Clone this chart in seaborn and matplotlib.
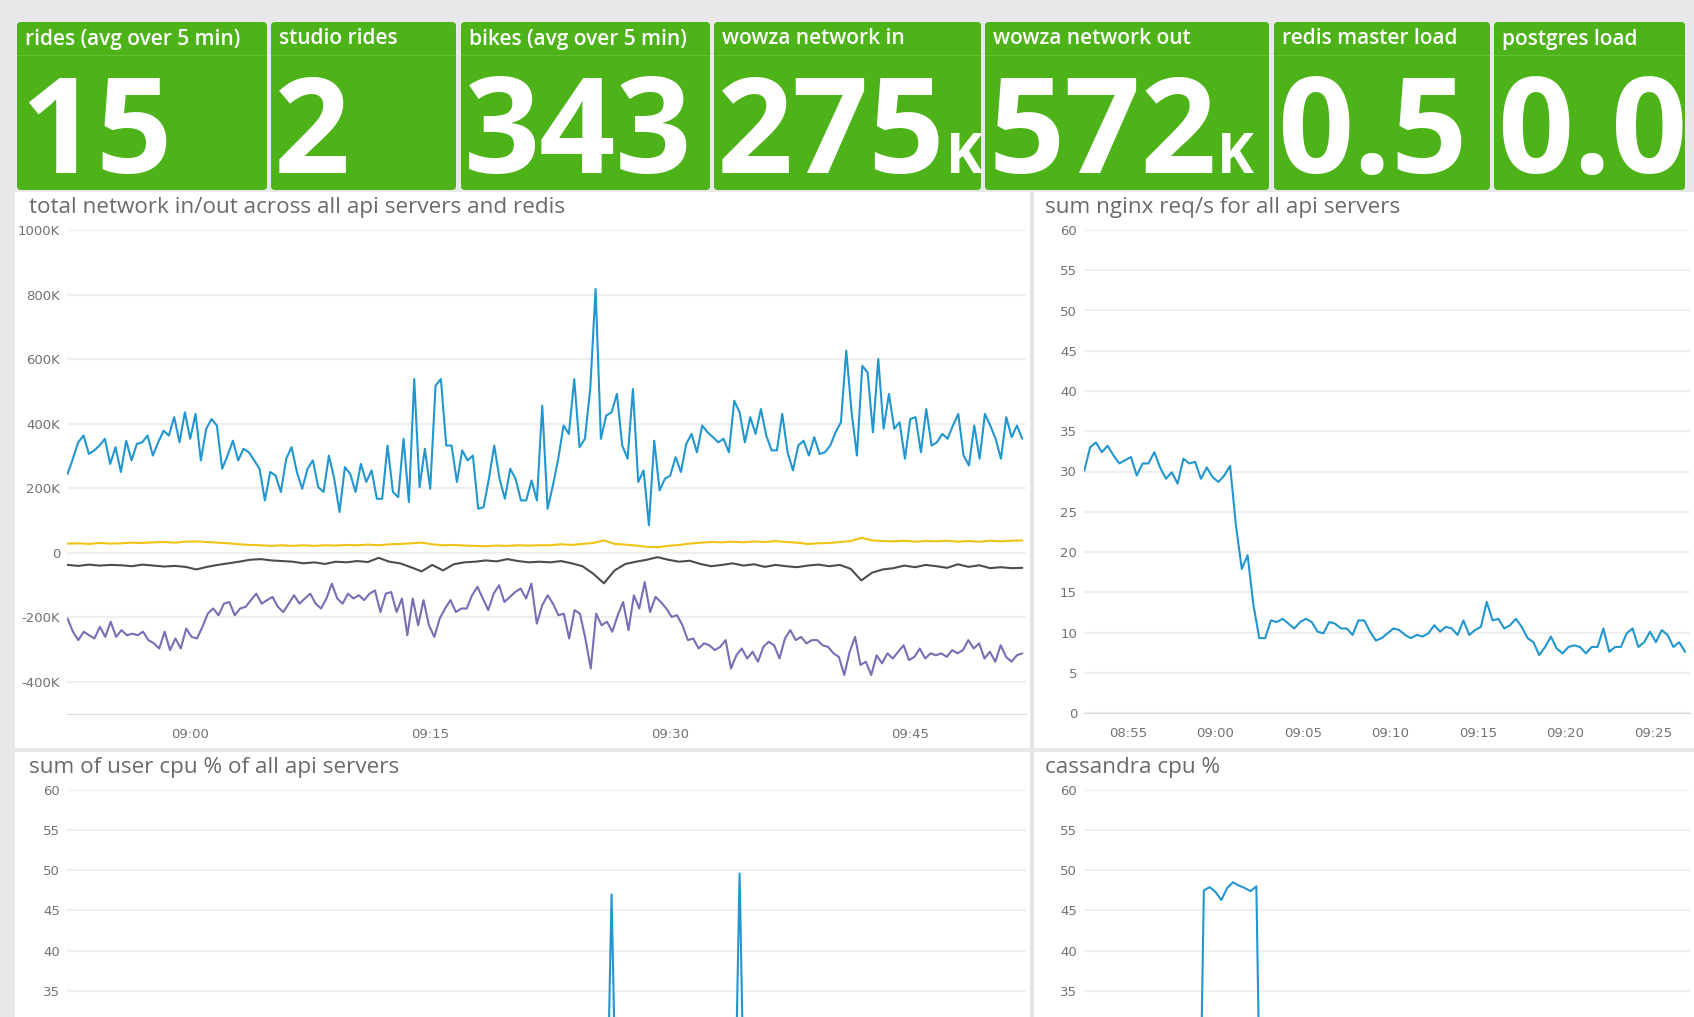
import numpy as np
import pandas as pd
import matplotlib
matplotlib.use('Agg')
import matplotlib.pyplot as plt
import matplotlib.dates as mdates
from matplotlib.patches import FancyBboxPatch, Rectangle
from matplotlib.ticker import AutoMinorLocator
import seaborn as sns

# ---------------- data ----------------
tile_titles = ['rides (avg over 5 min)', 'studio rides', 'bikes (avg over 5 min)',
               'wowza network in', 'wowza network out', 'redis master load', 'postgres load']
tile_values = ['15', '2', '343', '275', '572', '0.5', '0.0']
tile_suffix = ['', '', '', 'K', 'K', '', '']

# total network in/out (K) - api servers in (blue), out (purple), redis in (yellow), out (gray)
api_in = [244, 291, 342, 363, 306, 317, 332, 353, 275, 327, 250, 347, 286, 337, 342, 363, 301, 342,
          378, 363, 420, 342, 435, 353, 430, 286, 384, 414, 394, 260, 301, 347, 286, 322, 311, 286,
          260, 162, 250, 239, 188, 291, 327, 250, 198, 260,
          286, 203, 188, 301, 229, 126, 265, 244, 188, 275, 219, 255, 167, 167, 332, 188, 172, 353,
          157, 538, 203, 322, 198, 518, 538, 332, 332, 219, 317, 286, 301, 136, 141, 229, 332, 229,
          167, 260, 229, 162, 162, 224, 162, 456, 136,
          208, 291, 394, 368, 538, 327, 353, 507, 817, 353, 425, 435, 492, 332, 291, 507, 219, 255,
          85, 347, 193, 229, 239, 296, 250, 337, 368, 311, 394, 373, 358, 342, 353, 311, 471, 435,
          342, 420, 368, 445, 363, 317, 317, 430, 311,
          255, 332, 347, 301, 358, 306, 311, 332, 373, 404, 626, 435, 301, 579, 559, 373, 600, 384,
          492, 384, 404, 291, 414, 420, 311, 445, 332, 342, 368, 353, 394, 430, 301, 270, 394, 291,
          430, 394, 353, 291, 420, 358, 394, 353]
api_out = [-204, -245, -271, -245, -256, -266, -230, -261, -214, -261, -240, -256, -251, -256, -245,
           -271, -281, -297, -245, -302, -266, -297, -235, -261, -266, -230, -189, -173, -194, -158,
           -153, -194, -173, -168, -147, -127, -158, -147, -137, -168, -184, -158, -132, -158,
           -142, -127, -158, -173, -142, -96, -142, -158, -127, -142, -132, -147, -127, -117, -184,
           -127, -122, -184, -142, -256, -142, -225, -147, -225, -261, -204, -173, -147, -184, -173,
           -173, -132, -106, -142, -178, -127, -101, -153, -137, -122, -111, -142, -96, -220, -163,
           -132, -158, -194, -189, -266, -178, -189, -266, -359, -189, -225, -214, -245, -194, -153,
           -240, -132, -173, -91, -184, -137, -153, -173, -199, -194, -225, -271, -266, -297, -281,
           -287, -302, -292, -271, -359, -318, -297, -328, -307, -338, -292, -276, -287, -328, -266,
           -240, -271, -261, -281, -271, -271, -287, -292, -312, -323, -379, -307, -261, -348, -338,
           -379, -318, -343, -312, -328, -307, -287, -333, -323, -297, -328, -312, -318, -312, -323,
           -302, -312, -302, -271, -297, -281, -328, -307, -338, -287, -323, -338, -318, -312]
redis_in = [28, 29, 27, 30, 28, 29, 31, 30, 32, 33, 31, 34, 35, 33, 31, 29, 26, 24, 23, 21, 23, 21,
            23, 21, 23, 22, 24, 23, 25, 23, 26, 27, 29, 31, 26, 23, 24, 22, 21, 20, 22, 21, 23, 22, 23,
            23, 26, 24, 27, 30, 38, 27, 25, 22, 18, 17, 21, 24, 28, 31, 33, 32, 34, 32, 35, 33, 36, 33,
            31, 27, 29, 30, 33, 36, 46, 38, 36, 35, 37, 34, 36, 35, 37, 34, 36, 34, 37, 35, 37, 38]
redis_out = [-38, -41, -37, -40, -38, -39, -42, -37, -40, -43, -41, -44, -52, -44, -38, -33, -28, -22,
             -20, -24, -26, -28,
             -33, -30, -35, -28, -30, -26, -29, -16, -28, -33, -45, -58, -38, -55, -36, -30, -28, -24,
             -27, -20, -26, -30, -28,
             -30, -26, -33, -42, -65, -95, -55, -35, -28, -22, -14, -22, -28, -25, -35, -42, -38, -33,
             -40, -36, -44, -38, -42,
             -45, -40, -37, -42, -38, -50, -86, -62, -52, -48, -40, -45, -38, -42, -47, -36, -44, -39,
             -48, -45, -48, -47]
net_start, net_end = '2016-01-01 08:52:20', '2016-01-01 09:52:00'
net_ticks = [-400, -200, 0, 200, 400, 600, 800, 1000]
net_labels = ['-400K', '-200K', '0', '200K', '400K', '600K', '800K', '1000K']

# sum nginx req/s
nginx = [30.1, 33.0, 33.6, 32.4, 33.2, 32.0, 31.0, 31.4, 31.8, 29.5, 31.0, 31.0, 32.4, 30.5, 29.1,
         29.9, 28.5, 31.6, 31.0, 31.2, 29.1, 30.5, 29.3, 28.7, 29.5, 30.7, 23.3, 17.9, 19.6, 13.4,
         9.3, 9.3, 11.5, 11.3, 11.7, 11.1, 10.5, 11.3, 11.7, 11.3, 10.1, 9.9, 11.3, 11.1, 10.5,
         10.5, 9.7, 11.5, 11.5, 10.1, 9.0, 9.3, 9.9, 10.5, 10.3, 9.7, 9.3, 9.7, 9.5, 9.9, 10.9,
         10.1, 10.7, 10.5, 9.7, 11.5, 9.7, 10.3, 10.7, 13.8, 11.5, 11.7, 10.5, 10.9, 11.7, 10.7,
         9.3, 8.8, 7.2, 8.2, 9.5, 8.0, 7.4, 8.2, 8.4, 8.2, 7.4, 8.2, 8.2, 10.5, 7.6, 8.2, 8.2,
         9.9, 10.5, 8.2, 8.8, 10.1, 8.8, 10.3, 9.7, 8.2, 8.8, 7.6]
nginx_start, nginx_end = '2016-01-01 08:52:30', '2016-01-01 09:26:50'

# user cpu % (only the visible spikes matter, rest is below the cut)
cpu_times = ['08:52:20', '09:26:00', '09:26:20', '09:26:40', '09:34:00', '09:34:20', '09:34:40', '09:52:00']
cpu_vals = [14, 14, 47.0, 14, 14, 49.6, 14, 14]

# cassandra cpu %
cass_times = ['08:52:30', '08:59:00', '08:59:20', '08:59:40', '09:00:00', '09:00:20', '09:00:40',
              '09:01:00', '09:01:20', '09:01:40', '09:02:00', '09:02:20', '09:02:40', '09:26:50']
cass_vals = [3, 3, 47.5, 47.9, 47.3, 46.3, 47.8, 48.5, 48.1, 47.8, 47.4, 48.0, 3, 3]
cpu_ticks = [35, 40, 45, 50, 55, 60]

BLUE, PURPLE, YELLOW, GRAY = '#2196cf', '#7b6cb3', '#f0c214', '#4d4d4d'
GREEN = '#4db319'

# ---------------- figure ----------------
sns.set_style('white')
plt.rcParams['font.family'] = ['Open Sans', 'DejaVu Sans']

W, H = 1694, 1017
fig = plt.figure(figsize=(W / 100, H / 100), dpi=100)
fig.patch.set_facecolor('#e8e8e8')


def axes_px(left, top, right, bottom):
    return fig.add_axes([left / W, 1 - bottom / H, (right - left) / W, (bottom - top) / H])


def rect_px(x0, y0, x1, y1, color):
    fig.add_artist(Rectangle((x0 / W, 1 - y1 / H), (x1 - x0) / W, (y1 - y0) / H,
                             transform=fig.transFigure, color=color, lw=0, zorder=-2))


# panel backgrounds and dividers
rect_px(15, 192, W, H, 'white')
rect_px(1030, 192, 1034, H, '#e4e4e4')
rect_px(15, 748, W, 752, '#e8e8e8')

# ---------------- tiles ----------------
tiles_x = [(17, 267), (271, 456), (461, 710), (714, 981), (985, 1269), (1274, 1490), (1494, 1685)]
renderer = fig.canvas.get_renderer()
for (x0, x1), title, val, suf in zip(tiles_x, tile_titles, tile_values, tile_suffix):
    box = FancyBboxPatch((x0 / 100, (H - 190) / 100), (x1 - x0) / 100, (190 - 22) / 100,
                         boxstyle='round,pad=0,rounding_size=0.04',
                         transform=fig.dpi_scale_trans, facecolor=GREEN, edgecolor='none', zorder=-1)
    fig.add_artist(box)
    fig.add_artist(Rectangle((x0 / W, 1 - 56 / H), (x1 - x0) / W, 1.2 / H,
                             transform=fig.transFigure, color='#63bd35', lw=0, zorder=-1))
    fig.text((x0 + 8) / W, 1 - 39 / H, title, color='white', fontsize=15,
             fontweight='semibold', va='center', ha='left')
    t = fig.text((x0 + 3) / W, 1 - 173 / H, val, color='white', fontsize=96,
                 fontweight='bold', va='baseline', ha='left')
    if suf:
        bb = t.get_window_extent(renderer=renderer)
        fig.text(bb.x1 / W, 1 - 173 / H, suf, color='white', fontsize=40,
                 fontweight='bold', va='baseline', ha='left')


# ---------------- charts ----------------
def style_axis(ax, ylim, yticks, ylabels):
    ax.set_facecolor('none')
    ax.set_axisbelow(True)
    ax.set_ylim(*ylim)
    ax.set_yticks(yticks)
    ax.set_yticklabels(ylabels, fontfamily='DejaVu Sans')
    ax.grid(True, axis='y', color='#efefef', lw=1.6)
    ax.grid(False, axis='x')
    for s in ['left', 'right', 'top']:
        ax.spines[s].set_visible(False)
    ax.spines['bottom'].set_color('#d9d9d9')
    ax.tick_params(axis='y', length=0, pad=5, labelsize=9.5, labelcolor='#727272')
    ax.tick_params(axis='x', which='major', length=4, color='#cccccc', pad=6,
                   labelsize=9.5, labelcolor='#727272')
    ax.tick_params(axis='x', which='minor', length=2, color='#dddddd')
    ax.set_xlabel('')
    ax.set_ylabel('')
    for lab in ax.get_xticklabels():
        lab.set_fontfamily('DejaVu Sans')


day = '2016-01-01 '

# total network
ax1 = axes_px(67, 230, 1026, 714)
for vals, col in [(api_in, BLUE), (redis_in, YELLOW), (redis_out, GRAY), (api_out, PURPLE)]:
    tt = pd.date_range(net_start, net_end, periods=len(vals))
    sns.lineplot(x=tt, y=vals, ax=ax1, color=col, lw=1.5, estimator=None)
ax1.set_xlim(pd.Timestamp(day + '08:52:18'), pd.Timestamp(day + '09:52:14'))
ax1.xaxis.set_major_locator(mdates.MinuteLocator(byminute=[0, 15, 30, 45]))
ax1.xaxis.set_major_formatter(mdates.DateFormatter('%H:%M'))
ax1.xaxis.set_minor_locator(AutoMinorLocator(2))
style_axis(ax1, (-500, 1000), net_ticks, net_labels)

# nginx req/s
ax2 = axes_px(1084, 230, 1690, 713)
tt = pd.date_range(nginx_start, nginx_end, periods=len(nginx))
sns.lineplot(x=tt, y=nginx, ax=ax2, color=BLUE, lw=1.5, estimator=None)
ax2.set_xlim(pd.Timestamp(day + '08:52:29'), pd.Timestamp(day + '09:27:07'))
ax2.xaxis.set_major_locator(mdates.MinuteLocator(byminute=range(0, 60, 5)))
ax2.xaxis.set_major_formatter(mdates.DateFormatter('%H:%M'))
ax2.xaxis.set_minor_locator(AutoMinorLocator(2))
style_axis(ax2, (0, 60), list(range(0, 61, 5)), [str(v) for v in range(0, 61, 5)])

# user cpu
ax3 = axes_px(67, 790, 1026, H)
sns.lineplot(x=pd.to_datetime([day + s for s in cpu_times]), y=cpu_vals, ax=ax3,
             color=BLUE, lw=1.5, estimator=None)
ax3.set_xlim(pd.Timestamp(day + '08:52:18'), pd.Timestamp(day + '09:52:14'))
style_axis(ax3, (31.73, 60), cpu_ticks, [str(v) for v in cpu_ticks])
ax3.xaxis.set_visible(False)
ax3.spines['bottom'].set_visible(False)

# cassandra cpu
ax4 = axes_px(1084, 790, 1690, H)
sns.lineplot(x=pd.to_datetime([day + s for s in cass_times]), y=cass_vals, ax=ax4,
             color=BLUE, lw=1.5, estimator=None)
ax4.set_xlim(pd.Timestamp(day + '08:52:29'), pd.Timestamp(day + '09:27:07'))
style_axis(ax4, (31.73, 60), cpu_ticks, [str(v) for v in cpu_ticks])
ax4.xaxis.set_visible(False)
ax4.spines['bottom'].set_visible(False)

# panel titles
for x, y, s in [(29, 208, 'total network in/out across all api servers and redis'),
                (1045, 208, 'sum nginx req/s for all api servers'),
                (29, 768, 'sum of user cpu % of all api servers'),
                (1045, 768, 'cassandra cpu %')]:
    fig.text(x / W, 1 - y / H, s, fontsize=16.2, color='#6a6a6a', va='center', ha='left')

fig.savefig('out.png', dpi=100, facecolor=fig.get_facecolor())
